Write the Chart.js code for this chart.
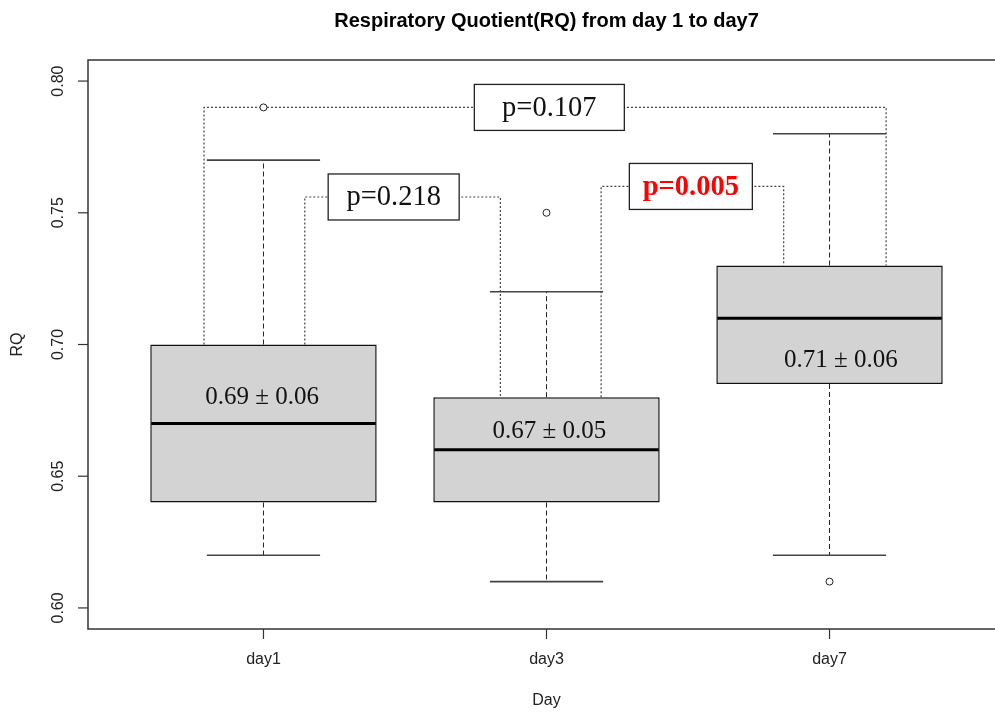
<!DOCTYPE html>
<html>
<head>
<meta charset="utf-8">
<title>RQ boxplot</title>
<script src="https://cdn.jsdelivr.net/npm/chart.js@4.4.1/dist/chart.umd.min.js"></script>
<style>
  html, body { margin: 0; background: #fff; overflow: hidden; }
  #wrap { width: 1100px; height: 713px; }
</style>
</head>
<body>
<div id="wrap"><canvas id="chartRQ" width="1100" height="713"></canvas></div>
<script>
// dados do boxplot (RQ por dia)
const dias       = ['day1', 'day3', 'day7'];
const posicoes   = [1, 2, 3];
const bigodeMin  = [0.62, 0.61, 0.62];
const q1         = [0.64, 0.64, 0.685];
const mediana    = [0.67, 0.66, 0.71];
const q3         = [0.70, 0.68, 0.73];
const bigodeMax  = [0.77, 0.72, 0.78];
const outlierX   = [1, 2, 3];
const outlierY   = [0.79, 0.75, 0.61];

// média ± dp escrita dentro das caixas
const mediaTexto = ['0.69 \u00b1 0.06', '0.67 \u00b1 0.05', '0.71 \u00b1 0.06'];
const mediaX     = [0.995, 2.01, 3.04];
const mediaY     = [0.680, 0.667, 0.694];

// comparações (colchetes pontilhados + valor p)
const pTexto     = ['p=0.107', 'p=0.218', 'p=0.005'];
const pSignif    = [false, false, true];
const grupoA     = [0, 0, 1];
const grupoB     = [2, 1, 2];
const colcheteX1 = [0.79, 1.146, 2.193];
const colcheteX2 = [3.20, 1.837, 2.838];
const colcheteY  = [0.79, 0.756, 0.76];
const pLabelX    = [2.01, 1.46, 2.51];

const yTicks = [0.60, 0.65, 0.70, 0.75, 0.80];

// estilo
const SANS  = "'Liberation Sans', Arial, sans-serif";
const SERIF = "'Liberation Serif', 'Times New Roman', serif";
const pCaixaLarg = [150, 131, 123];
const pCaixaAlt  = 46;

const $ = (id) => document.getElementById(id);

function linha(ctx, x1, y1, x2, y2) {
  ctx.beginPath();
  ctx.moveTo(x1, y1);
  ctx.lineTo(x2, y2);
  ctx.stroke();
}

const boxplotPlugin = {
  id: 'boxplotR',
  beforeDatasetsDraw(chart) {
    const { ctx, scales: { x, y } } = chart;
    ctx.save();
    posicoes.forEach((p, i) => {
      const px = x.getPixelForValue(p);
      // bigodes tracejados
      ctx.setLineDash([5, 3]);
      ctx.lineWidth = 1;
      ctx.strokeStyle = '#222';
      linha(ctx, px, y.getPixelForValue(q3[i]), px, y.getPixelForValue(bigodeMax[i]));
      linha(ctx, px, y.getPixelForValue(q1[i]), px, y.getPixelForValue(bigodeMin[i]));
      // extremidades
      ctx.setLineDash([]);
      ctx.lineWidth = 1.6;
      ctx.strokeStyle = '#444';
      const xa = x.getPixelForValue(p - 0.2), xb = x.getPixelForValue(p + 0.2);
      linha(ctx, xa, y.getPixelForValue(bigodeMax[i]), xb, y.getPixelForValue(bigodeMax[i]));
      linha(ctx, xa, y.getPixelForValue(bigodeMin[i]), xb, y.getPixelForValue(bigodeMin[i]));
    });
    ctx.restore();
  },
  afterDatasetsDraw(chart) {
    const { ctx, scales: { x, y } } = chart;
    ctx.save();
    // medianas
    ctx.lineWidth = 3;
    ctx.strokeStyle = '#000';
    posicoes.forEach((p, i) => {
      const yy = y.getPixelForValue(mediana[i]);
      linha(ctx, x.getPixelForValue(p - 0.4) + 1, yy, x.getPixelForValue(p + 0.4) - 1, yy);
    });
    // média ± dp
    ctx.fillStyle = '#111';
    ctx.font = `25px ${SERIF}`;
    ctx.textAlign = 'center';
    ctx.textBaseline = 'middle';
    mediaTexto.forEach((t, i) => {
      ctx.fillText(t, x.getPixelForValue(mediaX[i]), y.getPixelForValue(mediaY[i]));
    });
    // caixas dos valores p
    pTexto.forEach((t, i) => {
      const cx = x.getPixelForValue(pLabelX[i]);
      const cy = y.getPixelForValue(colcheteY[i]);
      const w = pCaixaLarg[i], h = pCaixaAlt;
      ctx.fillStyle = '#fff';
      ctx.fillRect(cx - w / 2, cy - h / 2, w, h);
      ctx.lineWidth = 1.3;
      ctx.strokeStyle = '#222';
      ctx.strokeRect(cx - w / 2, cy - h / 2, w, h);
      ctx.font = pSignif[i] ? `bold 28.5px ${SERIF}` : `28.5px ${SERIF}`;
      ctx.fillStyle = pSignif[i] ? '#FF0000' : '#111';
      ctx.fillText(t, cx, cy + 1);
    });
    ctx.restore();
  },
  afterDraw(chart) {
    const { ctx, chartArea: a, scales: { x, y } } = chart;
    ctx.save();
    // moldura
    ctx.lineWidth = 1.5;
    ctx.strokeStyle = '#333';
    ctx.strokeRect(a.left, a.top, a.right - a.left, a.bottom - a.top);
    // eixo y
    ctx.lineWidth = 1.2;
    ctx.fillStyle = '#222';
    ctx.font = `16px ${SANS}`;
    ctx.textAlign = 'center';
    ctx.textBaseline = 'middle';
    yTicks.forEach((v) => {
      const yy = y.getPixelForValue(v);
      linha(ctx, a.left - 10, yy, a.left, yy);
      ctx.save();
      ctx.translate(a.left - 29, yy);
      ctx.rotate(-Math.PI / 2);
      ctx.fillText(v.toFixed(2), 0, 0);
      ctx.restore();
    });
    // eixo x
    posicoes.forEach((p, i) => {
      const xx = x.getPixelForValue(p);
      linha(ctx, xx, a.bottom, xx, a.bottom + 10);
      ctx.fillText(dias[i], xx, a.bottom + 31);
    });
    // títulos dos eixos
    ctx.fillText('Day', (a.left + a.right) / 2, a.bottom + 72);
    ctx.save();
    ctx.translate(18, (a.top + a.bottom) / 2);
    ctx.rotate(-Math.PI / 2);
    ctx.fillText('RQ', 0, 0);
    ctx.restore();
    // título
    ctx.fillStyle = '#000';
    ctx.font = `bold 20px ${SANS}`;
    ctx.fillText('Respiratory Quotient(RQ) from day 1 to day7', (a.left + a.right) / 2, 21);
    ctx.restore();
  },
};

const colchetes = pTexto.map((t, i) => ({
  type: 'line',
  label: t,
  data: [
    { x: colcheteX1[i], y: q3[grupoA[i]] },
    { x: colcheteX1[i], y: colcheteY[i] },
    { x: colcheteX2[i], y: colcheteY[i] },
    { x: colcheteX2[i], y: q3[grupoB[i]] },
  ],
  borderColor: '#444',
  borderWidth: 1.2,
  borderDash: [2, 2],
  pointRadius: 0,
  fill: false,
  tension: 0,
  order: 2,
}));

new Chart($('chartRQ'), {
  data: {
    datasets: [
      {
        type: 'bar',
        label: 'IQR',
        data: posicoes.map((p, i) => ({ x: p, y: [q1[i], q3[i]] })),
        backgroundColor: '#D3D3D3',
        borderColor: '#111',
        borderWidth: 1.5,
        borderSkipped: false,
        barPercentage: 0.8,
        categoryPercentage: 1,
        order: 3,
      },
      ...colchetes,
      {
        type: 'scatter',
        label: 'outliers',
        data: outlierX.map((v, i) => ({ x: v, y: outlierY[i] })),
        pointRadius: 3.5,
        pointBackgroundColor: '#fff',
        pointBorderColor: '#222',
        pointBorderWidth: 1,
        order: 0,
      },
    ],
  },
  options: {
    responsive: false,
    animation: false,
    layout: { padding: { left: 88, top: 60, right: 95, bottom: 84 } },
    plugins: { legend: { display: false }, tooltip: { enabled: false }, title: { display: false } },
    scales: {
      x: {
        type: 'linear', display: false, offset: false, min: 0.38, max: 3.62,
        afterBuildTicks: (s) => { s.ticks = posicoes.map((v) => ({ value: v })); },
      },
      y: {
        type: 'linear', display: false, min: 0.592, max: 0.808,
        afterBuildTicks: (s) => { s.ticks = yTicks.map((v) => ({ value: v })); },
      },
    },
  },
  plugins: [boxplotPlugin],
});
</script>
</body>
</html>
